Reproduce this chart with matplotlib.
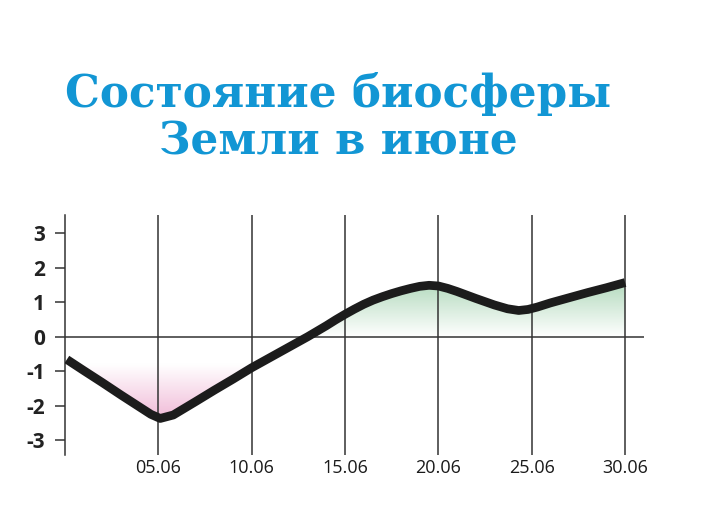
import numpy as np
import matplotlib.pyplot as plt
from matplotlib.colors import LinearSegmentedColormap

# day of June (0 = start of axis) and biosphere index
days = [0.1, 1, 2, 3, 4, 4.6, 5.1, 5.8, 7, 8, 9, 10, 11, 12, 13, 14, 14.5, 15,
        15.5, 16, 16.5, 17, 17.5, 18, 18.5, 19, 19.5, 20, 20.5, 21, 22, 23,
        23.7, 24.3, 24.8, 25.3, 26, 27, 28, 29, 30]
index = [-0.66, -0.98, -1.33, -1.69, -2.04, -2.25, -2.37, -2.27, -1.88, -1.55,
         -1.23, -0.9, -0.6, -0.3, 0.0, 0.32, 0.49, 0.65, 0.8, 0.94, 1.06, 1.16,
         1.25, 1.33, 1.4, 1.46, 1.49, 1.47, 1.4, 1.31, 1.11, 0.92, 0.81, 0.76,
         0.79, 0.86, 0.98, 1.13, 1.28, 1.42, 1.57]
xticks = [5, 10, 15, 20, 25, 30]
xlabels = ['05.06', '10.06', '15.06', '20.06', '25.06', '30.06']
yticks = [-3, -2, -1, 0, 1, 2, 3]

title = 'Состояние биосферы\nЗемли в июне'

days = np.array(days)
index = np.array(index)

fig = plt.figure(figsize=(7.01, 5.23), dpi=100)
ax = fig.add_axes([0.0927, 0.130, 0.8257, 0.459])

# gradient fills, clipped to the area between curve and zero
pink = LinearSegmentedColormap.from_list(
    'pink', [(0, '#ffffff'), (0.33, '#ffffff'), (1, '#f0b8d6')])
green = LinearSegmentedColormap.from_list('green', ['#ffffff', '#b5dbbf'])

neg = ax.fill_between(days, index, 0, where=index <= 0, interpolate=True,
                      color='none', lw=0)
im = ax.imshow(np.linspace(0, 1, 256).reshape(-1, 1), cmap=pink, aspect='auto',
               extent=[0, 31, -2.45, 0], origin='upper', zorder=1)
im.set_clip_path(neg.get_paths()[0], transform=ax.transData)

pos = ax.fill_between(days, index, 0, where=index >= 0, interpolate=True,
                      color='none', lw=0)
im2 = ax.imshow(np.linspace(0, 1, 256).reshape(-1, 1), cmap=green, aspect='auto',
                extent=[0, 31, 0, 1.55], origin='lower', zorder=1)
im2.set_clip_path(pos.get_paths()[0], transform=ax.transData)

ax.set_xlim(0, 31)
ax.set_ylim(-3.43, 3.53)

# grid
ax.vlines(xticks, -3.43, 3.53, color='#333333', lw=1.1, zorder=2)
ax.axhline(0, color='#333333', lw=1.1, zorder=2)

ax.plot(days, index, color='#1c1c1c', lw=6.3, solid_joinstyle='round',
        solid_capstyle='butt', zorder=3)

for s in ['top', 'right', 'bottom']:
    ax.spines[s].set_visible(False)
ax.spines['left'].set_color('#333333')
ax.spines['left'].set_linewidth(1.1)

ax.set_yticks(yticks)
ax.set_yticklabels([str(v) for v in yticks], fontsize=15, fontweight='bold',
                   family='Open Sans', color='#222222')
ax.tick_params(axis='y', length=7.5, width=1.1, color='#333333', pad=7)
ax.set_xticks(xticks)
ax.set_xticklabels(xlabels, fontsize=13, family='Open Sans', color='#1a1a1a')
ax.tick_params(axis='x', length=0, pad=3)

fig.text(0.482, 0.775, title, ha='center', va='center', fontsize=31.5,
         fontweight='bold', family='DejaVu Serif', color='#1296d4',
         linespacing=1.12)

fig.savefig('out.png', dpi=100)
